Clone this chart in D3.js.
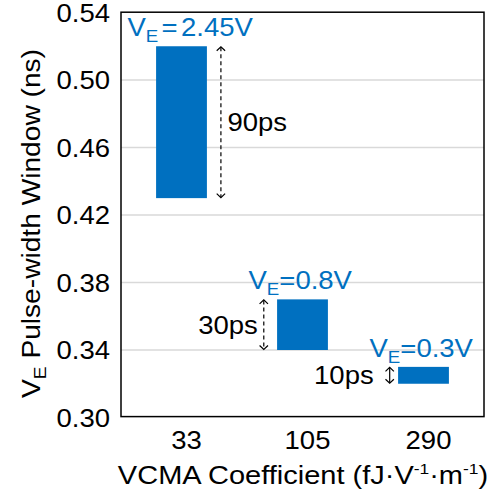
<!DOCTYPE html>
<html><head><meta charset="utf-8">
<script src="https://cdn.jsdelivr.net/npm/d3@7"></script>
<style>
body{margin:0;background:#fff;}
text{font-family:"Liberation Sans",Arial,sans-serif;}
</style></head>
<body><svg id="c" width="500" height="492"></svg>
<script>
const categories = ["33", "105", "290"];
const lowValues = [0.43, 0.34, 0.32];
const highValues = [0.52, 0.37, 0.33];
const voltageLabels = ["2.45V", "0.8V", "0.3V"];
const windowLabels = ["90ps", "30ps", "10ps"];
const yTicks = [0.30, 0.34, 0.38, 0.42, 0.46, 0.50, 0.54];

const blue = "#0070C0";
const svg = d3.select("#c");
const L = 121, R = 484, T = 12.5, B = 417.5;
const SX = 1.1; // horizontal stretch of the reference's lettering

const x = d3.scaleBand().domain(categories).range([L, R]).paddingInner(0.58).paddingOuter(0.29);
const y = d3.scaleLinear().domain([0.30, 0.54]).range([B, T]);

function stext(parent, px, py, size, anchor, sx, rot) {
  const g = parent.append("g")
    .attr("transform", `translate(${px},${py})` + (rot ? ` rotate(${rot})` : "") + ` scale(${sx || SX},1)`);
  return g.append("text").attr("font-size", size).attr("text-anchor", anchor || "start").attr("fill", "#000");
}

// gridlines
svg.append("g").selectAll("line").data(yTicks.slice(1, -1)).join("line")
  .attr("x1", L).attr("x2", R).attr("y1", d => y(d)).attr("y2", d => y(d))
  .attr("stroke", "#d9d9d9").attr("stroke-width", 1.3);

// y tick labels
const gy = svg.append("g");
yTicks.forEach(d => stext(gy, 110, y(d) + 9, 25, "end").text(d.toFixed(2)));

// x tick labels
const gx = svg.append("g");
categories.forEach(d => stext(gx, x(d) + x.bandwidth() / 2 + 5, 448.5, 25, "middle").text(d));

// bars
svg.append("g").selectAll("rect").data(categories).join("rect")
  .attr("x", d => x(d)).attr("width", x.bandwidth())
  .attr("y", (d, i) => y(highValues[i]))
  .attr("height", (d, i) => y(lowValues[i]) - y(highValues[i]))
  .attr("fill", blue);

// frame
svg.append("rect").attr("x", L).attr("y", T - 0.3).attr("width", R - L).attr("height", B - T - 0.6)
  .attr("fill", "none").attr("stroke", "#000").attr("stroke-width", 1.5);

// V_E labels
const gv = svg.append("g");
categories.forEach((c, i) => {
  const t = stext(gv, x(c) + x.bandwidth() / 2 - 54, y(highValues[i]) - 10, 25, "start").attr("fill", blue);
  t.append("tspan").text("V");
  t.append("tspan").attr("font-size", 17).attr("dy", 6).text("E");
  t.append("tspan").attr("dy", -6).attr("dx", i === 0 ? 3 : 0).text("=");
  t.append("tspan").attr("dx", i === 0 ? 3 : 0).text(voltageLabels[i]);
});

// arrows and window labels
const arrowX = [c => x(c) + x.bandwidth() + 14, c => x(c) - 13.3, c => x(c) - 8.4];
const textGap = [6.6, -6, -16];
const ga = svg.append("g");
function head(ax, ay, dir) {
  ga.append("path").attr("d", `M${ax - 4.2},${ay + dir * 4} L${ax},${ay} L${ax + 4.2},${ay + dir * 4}`)
    .attr("fill", "none").attr("stroke", "#000").attr("stroke-width", 1.2);
}
categories.forEach((c, i) => {
  const ax = arrowX[i](c);
  const y1 = y(highValues[i]), y2 = y(lowValues[i]);
  ga.append("line").attr("x1", ax).attr("x2", ax).attr("y1", y1 + 1).attr("y2", y2 - 1)
    .attr("stroke", "#000").attr("stroke-width", 1.2)
    .attr("stroke-dasharray", i === 2 ? null : "4,3");
  head(ax, y1 + 0.5, 1);
  head(ax, y2 - 0.5, -1);
  const mid = (y1 + y2) / 2 + 9;
  stext(ga, ax + textGap[i], mid, 25, i === 0 ? "start" : "end").text(windowLabels[i]);
});

// axis titles
stext(svg, 303, 484, 25, "middle", 1.16)
  .html('VCMA Coefficient (fJ·V<tspan dy="-10" font-size="15">-1</tspan><tspan dy="10">·m</tspan><tspan dy="-10" font-size="15">-1</tspan><tspan dy="10">)</tspan>');

const yt = stext(svg, 40, 223.5, 25, "middle", 1.126, -90);
yt.append("tspan").text("V");
yt.append("tspan").attr("font-size", 17).attr("dy", 6).text("E");
yt.append("tspan").attr("dy", -6).text(" Pulse-width Window (ns)");
</script></body></html>
